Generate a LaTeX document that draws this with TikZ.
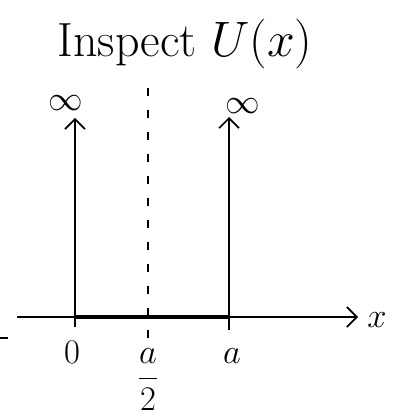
\documentclass[tikz,border=0pt]{standalone}
\usetikzlibrary{arrows.meta}
\begin{document}
\begin{tikzpicture}[x=0.5pt,y=-0.5pt]
		\tikzstyle{wall}=[line width=0.8pt,-{Straight Barb[length=5pt,width=10pt]}]
		\tikzstyle{lbl}=[inner sep=0pt,font=\LARGE]
		\useasboundingbox (0,0) rectangle (398,416);

		\node[anchor=base,font=\fontsize{24}{28}\selectfont] (title) at (185,57) {Inspect $U(x)$};

		\coordinate (O) at (75,317);
		\coordinate (A) at (229,317);
		\coordinate (Obot) at (75,327);
		\coordinate (Abot) at (229,330);
		\coordinate (Otop) at (75,118);
		\coordinate (Atop) at (229,117);
		\coordinate (xstart) at (17,317);
		\coordinate (xend) at (358,317);
		\coordinate (mtop) at (148,88);
		\coordinate (mbot) at (148,345);
		\coordinate (ma) at (0,338);
		\coordinate (mb) at (8,338);

		\draw[wall] (Obot) -- (Otop);
		\draw[wall] (Abot) -- (Atop);
		\draw[wall] (xstart) -- (xend);
		\draw[line width=1.6pt] (O) -- (A);
		\draw[line width=0.7pt, dash pattern=on 4pt off 7pt] (mtop) -- (mbot);
		\draw[line width=0.8pt] (ma) -- (mb);

		\node[lbl] (infl) at (66,103) {$\infty$};
		\node[lbl] (infr) at (243,106) {$\infty$};
		\node[lbl] (xlbl) at (377,320) {$x$};
		\node[lbl] (zero) at (72,352) {$0$};
		\node[lbl] (alab) at (232,356) {$a$};
		\node[lbl] (half) at (148,380) {$\displaystyle\frac{a}{2}$};
	\end{tikzpicture}
\end{document}
